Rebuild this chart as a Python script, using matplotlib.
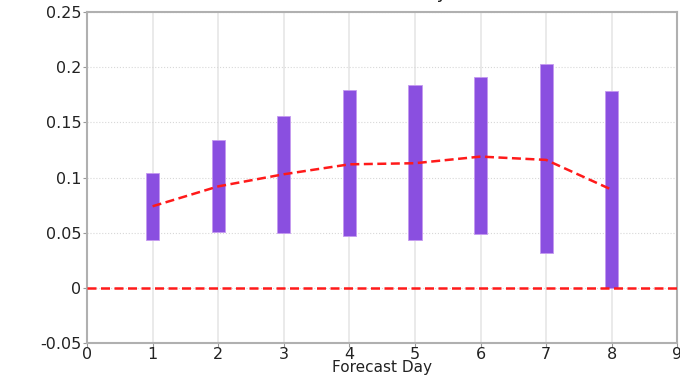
import numpy as np
import matplotlib
matplotlib.use("Agg")
from matplotlib import pyplot as plt

# Forecast day and the spread / mean of the error for each day
days = [1, 2, 3, 4, 5, 6, 7, 8]
low = [0.043, 0.051, 0.050, 0.047, 0.043, 0.049, 0.032, 0.000]
high = [0.104, 0.134, 0.156, 0.179, 0.184, 0.191, 0.203, 0.178]
mean = [0.074, 0.092, 0.103, 0.112, 0.113, 0.119, 0.116, 0.089]

xticks = [0, 1, 2, 3, 4, 5, 6, 7, 8, 9]
yticks = [-0.05, 0, 0.05, 0.1, 0.15, 0.2, 0.25]
ylabels = ['-0.05', '0', '0.05', '0.1', '0.15', '0.2', '0.25']

plt.rcParams['font.family'] = ['DejaVu Sans']

fig = plt.figure(figsize=(6.8, 3.75), dpi=100)
ax = fig.add_axes([0.128, 0.085, 0.868, 0.883])

# range bars
h = np.array(high) - np.array(low)
ax.bar(days, h, bottom=low, width=0.2, color='#8a4fe0',
       edgecolor='#c59af0', linewidth=0.6, zorder=3)

# mean line and zero reference
ax.plot(days, mean, color='#ff1a1a', ls='--', lw=1.8, dashes=(3.6, 1.8), zorder=4)
ax.axhline(0, color='#ff1a1a', ls='--', lw=1.8, dashes=(3.6, 1.8), zorder=4)

ax.set_xlim(0, 9)
ax.set_ylim(-0.05, 0.25)
ax.set_xticks(xticks)
ax.set_yticks(yticks)
ax.set_yticklabels(ylabels)
ax.tick_params(labelsize=11.5, length=3, color='#999999', pad=1, labelcolor='#222222')
ax.tick_params(axis='x', pad=0)

ax.grid(axis='x', color='#e6e6e6', lw=1.2, zorder=0)
ax.grid(axis='y', color='#d8d8d8', lw=0.8, ls=':', zorder=0)
for s in ax.spines.values():
    s.set_color('#b0b0b0')
    s.set_linewidth(1.5)

ax.set_xlabel('Forecast Day', fontsize=11, color='#222222')
ax.xaxis.set_label_coords(0.5, -0.05)

# title sits mostly above the top edge of the canvas
fig.text(447 / 680, 1.004, 'Forecast Accuracy', fontsize=13, ha='right',
         va='baseline', color='#222222')

plt.savefig('out.png', dpi=100)
